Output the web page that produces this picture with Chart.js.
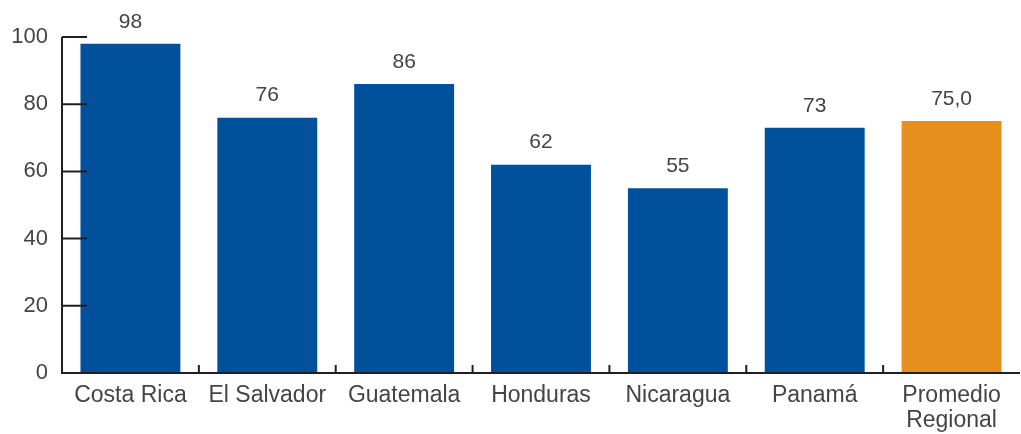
<!DOCTYPE html>
<html>
<head>
<meta charset="utf-8">
<script src="https://cdn.jsdelivr.net/npm/chart.js@4/dist/chart.umd.min.js"></script>
<style>
  html, body { margin: 0; padding: 0; background: #fff; }
  #wrap { width: 1021px; height: 434px; }
</style>
</head>
<body>
<div id="wrap"><canvas id="myChart"></canvas></div>
<script>
// data
var categories = ["Costa Rica", "El Salvador", "Guatemala", "Honduras", "Nicaragua", "Panamá", ["Promedio", "Regional"]];
var values = [98, 76, 86, 62, 55, 73, 75.0];
var valueLabels = ["98", "76", "86", "62", "55", "73", "75,0"];
var yTicks = [0, 20, 40, 60, 80, 100];

var blue = "rgb(0, 80, 155)";
var orange = "rgb(230, 142, 30)";
var textColor = "#444444";
var axisColor = "#231f20";
var fontFamily = "'Liberation Sans', Arial, sans-serif";

// value labels above bars
var valueLabelPlugin = {
  id: "valueLabels",
  afterDatasetsDraw: function (chart) {
    var ctx = chart.ctx;
    var meta = chart.getDatasetMeta(0);
    ctx.save();
    ctx.font = "21px " + fontFamily;
    ctx.fillStyle = textColor;
    ctx.textAlign = "center";
    ctx.textBaseline = "middle";
    meta.data.forEach(function (bar, i) {
      ctx.fillText(valueLabels[i], bar.x, bar.y - 22);
    });
    ctx.restore();
  },
};

// axis lines and inward tick marks
var axisPlugin = {
  id: "axisMarks",
  afterDraw: function (chart) {
    var ctx = chart.ctx;
    var area = chart.chartArea;
    var y = chart.scales.y;
    var x = chart.scales.x;
    ctx.save();
    ctx.strokeStyle = axisColor;
    ctx.lineWidth = 2;
    ctx.beginPath();
    ctx.moveTo(area.left, y.getPixelForValue(100));
    ctx.lineTo(area.left, area.bottom);
    ctx.lineTo(area.right, area.bottom);
    ctx.stroke();
    ctx.beginPath();
    yTicks.forEach(function (t) {
      var py = y.getPixelForValue(t);
      ctx.moveTo(area.left, py);
      ctx.lineTo(area.left + 25, py);
    });
    for (var i = 1; i < categories.length; i++) {
      var px = (x.getPixelForValue(i - 1) + x.getPixelForValue(i)) / 2;
      ctx.moveTo(px, area.bottom);
      ctx.lineTo(px, area.bottom - 8);
    }
    ctx.stroke();
    ctx.restore();
  },
};

var ctx = document.getElementById("myChart").getContext("2d");

var myChart = new Chart(ctx, {
  type: "bar",
  data: {
    labels: categories,
    datasets: [
      {
        data: values,
        backgroundColor: values.map(function (v, i) {
          return i === values.length - 1 ? orange : blue;
        }),
        categoryPercentage: 1,
        barPercentage: 0.73,
      },
    ],
  },
  options: {
    responsive: true,
    maintainAspectRatio: false,
    animation: false,
    layout: { padding: { top: 37, right: 1, left: 0, bottom: 0 } },
    plugins: {
      legend: { display: false },
      tooltip: { enabled: false },
    },
    scales: {
      x: {
        grid: { display: false },
        border: { display: false },
        ticks: {
          color: textColor,
          font: { family: fontFamily, size: 23, lineHeight: 1.1 },
          padding: 2,
          maxRotation: 0,
          autoSkip: false,
        },
        afterFit: function (scale) {
          scale.height = 61;
        },
      },
      y: {
        min: 0,
        max: 100,
        grid: { display: false },
        border: { display: false },
        afterBuildTicks: function (scale) {
          scale.ticks = yTicks.map(function (v) { return { value: v }; });
        },
        ticks: {
          color: textColor,
          font: { family: fontFamily, size: 22 },
          padding: 6,
        },
        afterFit: function (scale) {
          scale.width = 62;
        },
      },
    },
  },
  plugins: [valueLabelPlugin, axisPlugin],
});
</script>
</body>
</html>
